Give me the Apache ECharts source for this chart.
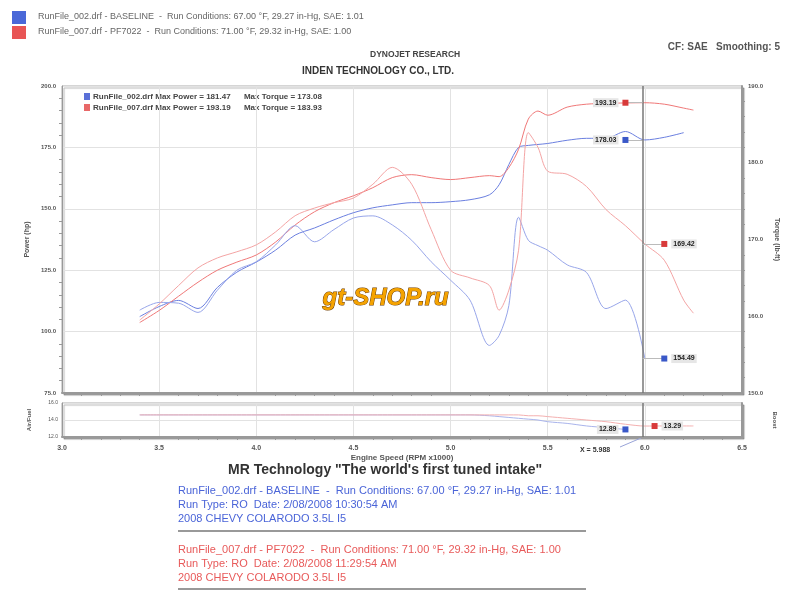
<!DOCTYPE html>
<html>
<head>
<meta charset="utf-8">
<script src="https://cdn.jsdelivr.net/npm/echarts@6/dist/echarts.min.js"></script>
<style>
  html, body { margin: 0; padding: 0; background: #fff; }
  #dyno { width: 800px; height: 601px; }
</style>
</head>
<body>
<div id="dyno"></div>
<script>
// engine speed (RPM x1000)
var rpm = [3.4, 3.5, 3.6, 3.7, 3.8, 3.9, 4.0, 4.1, 4.2, 4.3, 4.4, 4.5, 4.6, 4.7, 4.8, 4.9, 5.0, 5.1, 5.2,
  5.25, 5.3, 5.35, 5.4, 5.45, 5.5, 5.6, 5.7, 5.8, 5.9, 6.0, 6.1, 6.2, 6.25]
// power (hp)
var bluePower = [106.1, 110.2, 112.7, 109.4, 118.0, 124.2, 128.3, 133.2, 139.3, 142.2, 145.5, 148.4, 150.4, 151.6, 152.5, 152.5, 152.9, 153.7, 155.7,
  159.8, 168.0, 175.0, 175.8, 176.2, 176.6, 177.9, 178.7, 178.7, 181.47, 178.03, 179.1, 181.0, null]
var redPower = [103.7, 108.6, 114.4, 120.1, 125.0, 128.3, 131.2, 136.5, 143.4, 148.8, 152.5, 155.3, 158.6, 162.7, 163.9, 162.7, 161.9, 162.7, 163.5,
  163.1, 166.8, 174.2, 186.5, 189.8, 188.1, 191.4, 192.6, 192.9, 193.1, 193.19, 192.6, 191.0, 190.2]
// torque (lb-ft)
var blueTorque = [160.8, 161.8, 161.7, 160.5, 163.4, 166.0, 167.1, 169.3, 171.8, 169.7, 171.3, 172.8, 173.08, 171.9, 169.9, 167.1, 164.7, 162.1, 156.2,
  157.5, 161.4, 172.9, 169.9, 169.2, 168.6, 166.7, 165.7, 161.0, 162.1, 154.49, null, null, null]
var redTorque = [159.5, 161.6, 164.0, 166.3, 167.6, 168.4, 169.3, 171.0, 173.1, 174.1, 174.8, 175.4, 177.2, 179.4, 177.2, 171.3, 166.0, 165.0, 164.0,
  160.8, 163.4, 168.6, 183.93, 182.0, 178.9, 178.5, 176.9, 173.9, 171.8, 169.42, 167.3, 162.1, 160.4]
// air/fuel
var blueAfr = [14.6, 14.6, 14.6, 14.6, 14.6, 14.6, 14.6, 14.6, 14.6, 14.6, 14.6, 14.6, 14.6, 14.6, 14.6, 14.6, 14.6, 14.6, 14.5,
  14.4, 14.3, 14.2, 14.1, 14.0, 13.8, 13.6, 13.3, 13.1, 12.89, null, null, null, null]
var redAfr = [14.6, 14.6, 14.6, 14.6, 14.6, 14.6, 14.6, 14.6, 14.6, 14.6, 14.6, 14.6, 14.6, 14.6, 14.6, 14.6, 14.6, 14.6, 14.6,
  14.6, 14.6, 14.6, 14.5, 14.5, 14.4, 14.2, 14.0, 13.8, 13.5, 13.29, 13.3, 13.3, 13.3]
var powerTicks = [75, 100, 125, 150, 175, 200]
var cursorRpm = 5.988

var BLUE = '#6b7fe0'
var RED = '#f07878'
var GREY = '#555'
var FONT = 'Liberation Sans'

function pairs (ys) {
  var out = []
  for (var i = 0; i < rpm.length; i++) {
    if (ys[i] !== null) out.push([rpm[i], ys[i]])
  }
  return out
}

var at = rpm.indexOf(6.0)

// little square + value box, with a grey connector to the cursor
function tag (x, y, color, side) {
  return {
    symbol: 'rect',
    symbolSize: 6,
    data: [{ coord: [x, y], value: y.toFixed(2) }],
    itemStyle: { color: color },
    label: {
      show: true,
      position: side,
      distance: 4,
      color: '#222',
      fontSize: 7,
      fontWeight: 'bold',
      fontFamily: FONT,
      backgroundColor: '#e6e6e6',
      padding: [1, 2]
    }
  }
}
function connector (x, y, extra) {
  var data = [[{ coord: [x, y] }, { coord: [cursorRpm, y] }]]
  if (extra) data.push(extra)
  return {
    silent: true,
    symbol: 'none',
    animation: false,
    label: { show: false },
    lineStyle: { color: '#bbb', width: 1, type: 'solid' },
    data: data
  }
}
var cursorLine = { xAxis: cursorRpm, lineStyle: { color: '#777', width: 1.5, type: 'solid' } }

var chart = echarts.init(document.getElementById('dyno'))
chart.setOption({
  animation: false,
  backgroundColor: '#fff',
  textStyle: { fontFamily: FONT },
  grid: [
    { left: 62, top: 86, width: 680, height: 307, show: true, borderColor: '#aaa', borderWidth: 1,
      backgroundColor: '#fff', shadowColor: 'rgba(0,0,0,0.3)', shadowOffsetX: 2, shadowOffsetY: 2, shadowBlur: 1 },
    { left: 62, top: 403, width: 680, height: 34, show: true, borderColor: '#aaa', borderWidth: 1,
      backgroundColor: '#fff', shadowColor: 'rgba(0,0,0,0.3)', shadowOffsetX: 2, shadowOffsetY: 2, shadowBlur: 1 }
  ],
  xAxis: [
    {
      gridIndex: 0, type: 'value', min: 3, max: 6.5, interval: 0.5,
      axisLabel: { show: false },
      axisLine: { lineStyle: { color: '#999', width: 2 } },
      axisTick: { show: false },
      minorTick: { show: true, splitNumber: 5, length: 3, lineStyle: { color: '#999' } },
      splitLine: { show: true, lineStyle: { color: '#e2e2e2' } }
    },
    {
      gridIndex: 1, type: 'value', min: 3, max: 6.5, interval: 0.5,
      name: 'Engine Speed (RPM x1000)', nameLocation: 'middle', nameGap: 17,
      nameTextStyle: { fontSize: 8, fontWeight: 'bold', color: GREY },
      axisLabel: { fontSize: 7, fontWeight: 'bold', color: GREY, margin: 8, formatter: function (v) { return v.toFixed(1) } },
      axisLine: { lineStyle: { color: '#999', width: 2 } },
      axisTick: { show: false },
      minorTick: { show: true, splitNumber: 5, length: 3, lineStyle: { color: '#999' } },
      splitLine: { show: true, lineStyle: { color: '#e2e2e2' } }
    }
  ],
  yAxis: [
    {
      gridIndex: 0, type: 'value', position: 'left',
      min: powerTicks[0], max: powerTicks[powerTicks.length - 1], interval: 25,
      name: 'Power (hp)', nameLocation: 'middle', nameGap: 30,
      nameTextStyle: { fontSize: 7, fontWeight: 'bold', color: GREY },
      axisLabel: { fontSize: 6, fontWeight: 'bold', color: GREY, margin: 6, formatter: function (v) { return v.toFixed(1) } },
      axisLine: { show: true, lineStyle: { color: '#999' } },
      axisTick: { show: false },
      minorTick: { show: true, splitNumber: 5, length: 3, lineStyle: { color: '#999' } },
      splitLine: { show: true, lineStyle: { color: '#e2e2e2' } }
    },
    {
      gridIndex: 0, type: 'value', position: 'right',
      min: 150, max: 190, interval: 10,
      name: 'Torque (lb-ft)', nameLocation: 'middle', nameGap: 26, nameRotate: -90,
      nameTextStyle: { fontSize: 7, fontWeight: 'bold', color: GREY },
      axisLabel: { fontSize: 6, fontWeight: 'bold', color: GREY, margin: 6, formatter: function (v) { return v.toFixed(1) } },
      axisLine: { show: true, lineStyle: { color: '#999', width: 2 } },
      axisTick: { show: false },
      minorTick: { show: true, splitNumber: 5, length: 3, lineStyle: { color: '#999' } },
      splitLine: { show: false }
    },
    {
      gridIndex: 1, type: 'value', position: 'left', min: 12, max: 16, interval: 2,
      name: 'Air/Fuel', nameLocation: 'middle', nameGap: 30,
      nameTextStyle: { fontSize: 6, fontWeight: 'bold', color: GREY },
      axisLabel: { fontSize: 5, color: GREY, margin: 4, formatter: function (v) { return v.toFixed(1) } },
      axisLine: { show: true, lineStyle: { color: '#999' } },
      axisTick: { show: false },
      splitLine: { show: true, lineStyle: { color: '#e2e2e2' } }
    },
    {
      gridIndex: 1, type: 'value', position: 'right', min: 0, max: 10,
      name: 'Boost', nameLocation: 'middle', nameGap: 30, nameRotate: -90,
      nameTextStyle: { fontSize: 6, fontWeight: 'bold', color: GREY },
      axisLabel: { show: false },
      axisLine: { show: true, lineStyle: { color: '#999', width: 2 } },
      axisTick: { show: false },
      splitLine: { show: false }
    }
  ],
  series: [
    {
      name: 'Power 002', type: 'line', xAxisIndex: 0, yAxisIndex: 0, smooth: 0.3,
      showSymbol: false, data: pairs(bluePower),
      lineStyle: { color: BLUE, width: 1 }, itemStyle: { color: BLUE },
      markPoint: tag(5.9, bluePower[at], '#3a58c8', 'left'),
      markLine: connector(5.9, bluePower[at], cursorLine)
    },
    {
      name: 'Power 007', type: 'line', xAxisIndex: 0, yAxisIndex: 0, smooth: 0.3,
      showSymbol: false, data: pairs(redPower),
      lineStyle: { color: RED, width: 1 }, itemStyle: { color: RED },
      markPoint: tag(5.9, redPower[at], '#d83a3a', 'left'),
      markLine: connector(5.9, redPower[at])
    },
    {
      name: 'Torque 002', type: 'line', xAxisIndex: 0, yAxisIndex: 1, smooth: 0.3,
      showSymbol: false, data: pairs(blueTorque),
      lineStyle: { color: '#98a6ea', width: 1 }, itemStyle: { color: '#98a6ea' },
      markPoint: tag(6.1, blueTorque[at], '#3a58c8', 'right'),
      markLine: connector(6.1, blueTorque[at])
    },
    {
      name: 'Torque 007', type: 'line', xAxisIndex: 0, yAxisIndex: 1, smooth: 0.3,
      showSymbol: false, data: pairs(redTorque),
      lineStyle: { color: '#f4a4a4', width: 1 }, itemStyle: { color: '#f4a4a4' },
      markPoint: tag(6.1, redTorque[at], '#d83a3a', 'right'),
      markLine: connector(6.1, redTorque[at])
    },
    {
      name: 'AFR 002', type: 'line', xAxisIndex: 1, yAxisIndex: 2, smooth: 0.3,
      showSymbol: false, data: pairs(blueAfr),
      lineStyle: { color: '#a9b4ec', width: 1 }, itemStyle: { color: '#a9b4ec' },
      markPoint: tag(5.9, blueAfr[at - 1], '#3a58c8', 'left'),
      markLine: { silent: true, symbol: 'none', label: { show: false }, data: [cursorLine] }
    },
    {
      name: 'AFR 007', type: 'line', xAxisIndex: 1, yAxisIndex: 2, smooth: 0.3,
      showSymbol: false, data: pairs(redAfr),
      lineStyle: { color: '#f4b0b0', width: 1 }, itemStyle: { color: '#f4b0b0' },
      markPoint: tag(6.05, redAfr[at], '#d83a3a', 'right')
    }
  ],
  graphic: [
    // run file legend, top left
    { type: 'rect', left: 12, top: 11, shape: { width: 14, height: 13 }, style: { fill: '#4a68d8' } },
    { type: 'rect', left: 12, top: 26, shape: { width: 14, height: 13 }, style: { fill: '#e85555' } },
    { type: 'text', left: 38, top: 12, style: { text: 'RunFile_002.drf - BASELINE  -  Run Conditions: 67.00 \u00b0F, 29.27 in-Hg, SAE: 1.01', fontSize: 9, fill: '#666', fontFamily: FONT } },
    { type: 'text', left: 38, top: 27, style: { text: 'RunFile_007.drf - PF7022  -  Run Conditions: 71.00 \u00b0F, 29.32 in-Hg, SAE: 1.00', fontSize: 9, fill: '#666', fontFamily: FONT } },
    { type: 'text', left: 370, top: 50, style: { text: 'DYNOJET RESEARCH', fontSize: 8.5, fontWeight: 'bold', fill: '#444', fontFamily: FONT } },
    { type: 'text', left: 302, top: 66, style: { text: 'INDEN TECHNOLOGY CO., LTD.', fontSize: 10, fontWeight: 'bold', fill: '#333', fontFamily: FONT } },
    { type: 'text', right: 20, top: 42, style: { text: 'CF: SAE   Smoothing: 5', fontSize: 10, fontWeight: 'bold', fill: '#555', fontFamily: FONT } },
    // max values box inside plot
    { type: 'rect', left: 84, top: 93, shape: { width: 6, height: 7 }, style: { fill: '#5a70d8' } },
    { type: 'rect', left: 84, top: 104, shape: { width: 6, height: 7 }, style: { fill: '#e86868' } },
    { type: 'text', left: 93, top: 93, style: { text: 'RunFile_002.drf Max Power = ' + Math.max.apply(null, bluePower).toFixed(2) + '      Max Torque = ' + Math.max.apply(null, blueTorque).toFixed(2), fontSize: 8, fontWeight: 'bold', fill: '#444', fontFamily: FONT } },
    { type: 'text', left: 93, top: 104, style: { text: 'RunFile_007.drf Max Power = ' + Math.max.apply(null, redPower).toFixed(2) + '      Max Torque = ' + Math.max.apply(null, redTorque).toFixed(2), fontSize: 8, fontWeight: 'bold', fill: '#444', fontFamily: FONT } },
    // watermark
    { type: 'text', left: 322, top: 286, z: 20, style: { text: 'gt-SHOP.ru', fontSize: 24, fontWeight: 'bold', fontStyle: 'italic', fill: '#f5a300', stroke: '#6b3a00', lineWidth: 1, fontFamily: FONT } },
    // cursor readout
    { type: 'text', left: 580, top: 447, style: { text: 'X = ' + cursorRpm.toFixed(3), fontSize: 7, fontWeight: 'bold', fill: '#333', fontFamily: FONT } },
    { type: 'line', shape: { x1: 620, y1: 447, x2: 641, y2: 438 }, style: { stroke: '#99a4d8', lineWidth: 1 } },
    // footer
    { type: 'text', left: 228, top: 463, style: { text: 'MR Technology "The world\'s first tuned intake"', fontSize: 14, fontWeight: 'bold', fill: '#333', fontFamily: FONT } },
    { type: 'text', left: 178, top: 485, style: { text: 'RunFile_002.drf - BASELINE  -  Run Conditions: 67.00 \u00b0F, 29.27 in-Hg, SAE: 1.01', fontSize: 11, fill: '#4a64d8', fontFamily: FONT } },
    { type: 'text', left: 178, top: 499, style: { text: 'Run Type: RO  Date: 2/08/2008 10:30:54 AM', fontSize: 11, fill: '#4a64d8', fontFamily: FONT } },
    { type: 'text', left: 178, top: 513, style: { text: '2008 CHEVY COLARODO 3.5L I5', fontSize: 11, fill: '#4a64d8', fontFamily: FONT } },
    { type: 'rect', left: 178, top: 530, shape: { width: 408, height: 2 }, style: { fill: '#999' } },
    { type: 'text', left: 178, top: 544, style: { text: 'RunFile_007.drf - PF7022  -  Run Conditions: 71.00 \u00b0F, 29.32 in-Hg, SAE: 1.00', fontSize: 11, fill: '#e85a5a', fontFamily: FONT } },
    { type: 'text', left: 178, top: 558, style: { text: 'Run Type: RO  Date: 2/08/2008 11:29:54 AM', fontSize: 11, fill: '#e85a5a', fontFamily: FONT } },
    { type: 'text', left: 178, top: 572, style: { text: '2008 CHEVY COLARODO 3.5L I5', fontSize: 11, fill: '#e85a5a', fontFamily: FONT } },
    { type: 'rect', left: 178, top: 588, shape: { width: 408, height: 2 }, style: { fill: '#999' } }
  ]
})
window.addEventListener('resize', function () {
  chart.resize()
})
</script>
</body>
</html>
